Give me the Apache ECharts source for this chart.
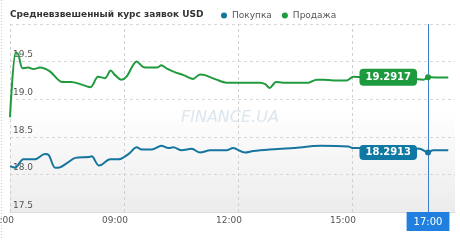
<!DOCTYPE html>
<html><head><meta charset="utf-8">
<script src="https://cdn.jsdelivr.net/npm/echarts@6/dist/echarts.min.js"></script>
<style>html,body{margin:0;padding:0;background:#fff}#c{width:460px;height:240px}</style>
</head><body><div id="c"></div>
<script>
const titleText = 'Средневзвешенный курс заявок USD';
const seriesNames = ['Покупка', 'Продажа'];
const xTicks = [6, 9, 12, 15];
const yTicks = [17.5, 18.0, 18.5, 19.0, 19.5, 20.0];
const currentTime = '17:00';

const buyTimes = ['06:00','06:08','06:21','06:39','06:55','07:01','07:11','07:16','07:30','07:43','08:04','08:09','08:20','08:25','08:38','08:51','09:07','09:20','09:28','09:44','09:59','10:10','10:18','10:31','10:47','11:00','11:16','11:42','11:52','12:11','12:24','12:50','13:27','14:10','14:54','15:02','15:18','16:08','16:47','17:00','17:08','17:32'];
const buyValues = [18.11,18.09,18.20,18.20,18.27,18.26,18.09,18.09,18.15,18.22,18.23,18.24,18.12,18.13,18.20,18.20,18.27,18.36,18.33,18.33,18.38,18.35,18.36,18.32,18.34,18.29,18.32,18.32,18.35,18.29,18.31,18.33,18.35,18.38,18.37,18.35,18.35,18.35,18.34,18.2913,18.32,18.32];

const sellTimes = ['06:00','06:09','06:13','06:20','06:29','06:37','06:47','07:03','07:22','07:37','07:51','08:07','08:19','08:30','08:39','08:46','08:56','09:04','09:20','09:30','09:38','09:52','09:59','10:07','10:20','10:34','10:49','11:00','11:08','11:26','11:42','12:35','12:43','12:50','13:00','13:11','13:51','14:04','14:15','14:30','14:52','15:02','15:18','16:08','16:53','17:00','17:11','17:32'];
const sellValues = [18.76,19.62,19.60,19.41,19.42,19.40,19.42,19.37,19.23,19.23,19.20,19.16,19.30,19.28,19.38,19.32,19.26,19.30,19.50,19.43,19.42,19.42,19.45,19.41,19.36,19.32,19.27,19.33,19.32,19.26,19.22,19.22,19.20,19.15,19.23,19.22,19.22,19.26,19.26,19.25,19.25,19.30,19.29,19.29,19.26,19.2917,19.29,19.29];

const buyCurrent = 18.2913;
const sellCurrent = 19.2917;

function toH(t){const p=t.split(':');return +p[0]+ +p[1]/60;}
function fmtH(h){const hh=Math.floor(h),mm=Math.round((h-hh)*60);return String(hh).padStart(2,'0')+':'+String(mm).padStart(2,'0');}

const FONT = 'DejaVu Sans';
const BLUE = '#16759f', GREEN = '#1f9a3c';
const chart = echarts.init(document.getElementById('c'), null, {renderer:'canvas'});
chart.setOption({
  animation:false,
  textStyle:{fontFamily:FONT},
  title:{text:titleText,left:10,top:10,padding:0,textStyle:{fontFamily:FONT,fontSize:9,fontWeight:'bold',color:'#333'}},
  legend:{data:seriesNames,left:221,top:11,padding:0,icon:'circle',itemWidth:6,itemHeight:6,itemGap:10,
    textStyle:{fontFamily:FONT,fontSize:9,color:'#555'}},
  grid:{left:10,right:5,top:24,bottom:28,containLabel:false,outerBoundsMode:'none',show:true,borderWidth:0,
    backgroundColor:{type:'linear',x:0,y:0,x2:0,y2:1,colorStops:[{offset:0,color:'#ffffff'},{offset:0.45,color:'#ffffff'},{offset:1,color:'#ececec'}]}},
  graphic:[
    {type:'line',shape:{x1:1.5,y1:0,x2:1.5,y2:240},style:{stroke:'#ccc',lineDash:[1,2],lineWidth:1}},
    {type:'text',left:181,top:110,z:0,style:{text:'FINANCE.UA',fontFamily:FONT,fontSize:16,fontStyle:'italic',fill:'#dde6ec'}}
  ],
  xAxis:{type:'value',min:6,max:17.71,interval:3,
    axisLine:{show:true,lineStyle:{color:'#ddd'}},axisTick:{show:false},splitLine:{show:false},
    axisLabel:{margin:4,fontFamily:FONT,fontSize:9,color:'#555',padding:[0,18,0,0],hideOverlap:false,
      formatter:v=>xTicks.includes(v)?fmtH(v):''}},
  yAxis:{type:'value',min:17.5,max:20,interval:0.5,
    axisLine:{show:false},axisTick:{show:false},
    splitLine:{show:true,lineStyle:{color:'#d8d8d8',type:[3,3]}},
    axisLabel:{inside:true,margin:3,verticalAlign:'bottom',padding:[0,0,2,0],fontFamily:FONT,fontSize:9,color:'#555',
      formatter:v=>(yTicks.includes(v)&&v<20)?v.toFixed(1):''}},
  series:[
    {name:seriesNames[0],type:'line',showSymbol:false,smooth:0.3,color:BLUE,
      lineStyle:{width:2,color:BLUE},
      data:buyTimes.map((t,i)=>[toH(t),buyValues[i]]),
      markLine:{silent:true,symbol:'none',z:1,lineStyle:{color:'#d0d0d0',type:[3,3],width:1},
        data:xTicks.map(v=>({xAxis:v,label:{show:false}})).concat([
          {xAxis:toH(currentTime),lineStyle:{color:'#3a80c6',type:'solid',width:1,opacity:1},
           label:{show:true,position:'start',distance:0,formatter:currentTime,backgroundColor:'#1f80e0',color:'#fff',
             fontFamily:FONT,fontSize:10,padding:[5,7,4,7]}}])},
      markPoint:{symbol:'circle',symbolSize:6,itemStyle:{color:BLUE},
        data:[{coord:[toH(currentTime),buyCurrent],
          label:{show:true,position:'left',distance:8,formatter:buyCurrent.toFixed(4),backgroundColor:'#0f79a3',
            borderRadius:4,color:'#fff',fontFamily:FONT,fontSize:10,fontWeight:'bold',padding:[3,6,2,6]}}]}},
    {name:seriesNames[1],type:'line',showSymbol:false,smooth:0.3,color:GREEN,
      lineStyle:{width:2,color:GREEN},
      data:sellTimes.map((t,i)=>[toH(t),sellValues[i]]),
      markPoint:{symbol:'circle',symbolSize:6,itemStyle:{color:GREEN},
        data:[{coord:[toH(currentTime),sellCurrent],
          label:{show:true,position:'left',distance:8,formatter:sellCurrent.toFixed(4),backgroundColor:'#1d9a3e',
            borderRadius:4,color:'#fff',fontFamily:FONT,fontSize:10,fontWeight:'bold',padding:[4,6,3,6]}}]}}
  ]
});
</script></body></html>
